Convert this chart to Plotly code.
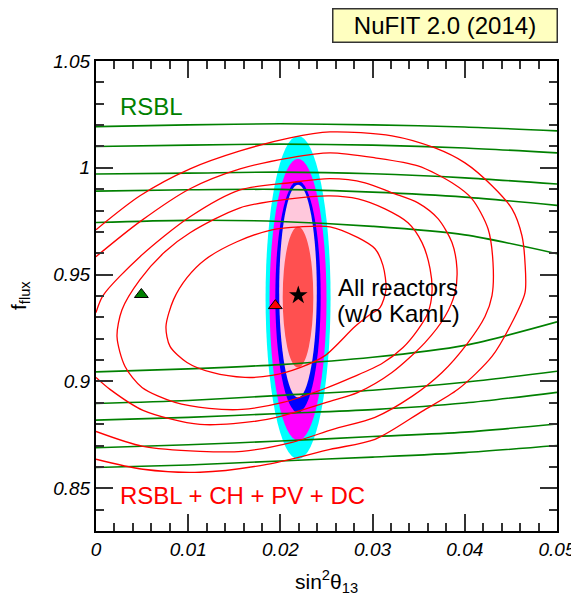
import plotly.graph_objects as go

# ---------------- data ----------------
x_ticks = [0, 0.01, 0.02, 0.03, 0.04, 0.05]
x_tick_labels = ["0", "0.01", "0.02", "0.03", "0.04", "0.05"]
y_ticks = [0.85, 0.9, 0.95, 1.0, 1.05]
y_tick_labels = ["0.85", "0.9", "0.95", "1", "1.05"]

# RSBL (green) contour lines, sampled at these sin^2 theta13 values
rsbl_x = [0.0, 0.01, 0.02, 0.03, 0.04, 0.05]
rsbl_3s_up = [1.0193, 1.0201, 1.0206, 1.0201, 1.0191, 1.0173]
rsbl_99_up = [1.0100, 1.0106, 1.0111, 1.0106, 1.0093, 1.0070]
rsbl_2s_up = [0.9971, 0.9975, 0.9980, 0.9972, 0.9953, 0.9924]
rsbl_90_up = [0.9891, 0.9897, 0.9899, 0.9886, 0.9863, 0.9824]
rsbl_1s_up = [0.9744, 0.9754, 0.9749, 0.9726, 0.9686, 0.9598]
rsbl_1s_lo = [0.9045, 0.9059, 0.9079, 0.9113, 0.9169, 0.9279]
rsbl_90_lo = [0.8897, 0.8911, 0.8935, 0.8959, 0.8996, 0.9048]
rsbl_2s_lo = [0.8819, 0.8832, 0.8850, 0.8868, 0.8899, 0.8949]
rsbl_99_lo = [0.8690, 0.8704, 0.8721, 0.8742, 0.8763, 0.8801]
rsbl_3s_lo = [0.8597, 0.8609, 0.8628, 0.8646, 0.8667, 0.8700]

# RSBL + CH + PV + DC (red) contours
comb_1s_x = [0.00759, 0.00841, 0.00987, 0.01182, 0.01529, 0.01909, 0.02213, 0.02538, 0.02842,
             0.03026, 0.03113, 0.03145, 0.03080, 0.02972, 0.02809, 0.02484, 0.02213, 0.01909,
             0.01616, 0.01258, 0.00987, 0.00803, 0.00759]
comb_1s_y = [0.9257, 0.9383, 0.9486, 0.9570, 0.9654, 0.9710, 0.9724, 0.9724, 0.9673,
             0.9621, 0.9542, 0.9430, 0.9346, 0.9313, 0.9257, 0.9121, 0.9065, 0.9028,
             0.9019, 0.9042, 0.9089, 0.9164, 0.9257]
comb_90_x = [0.00228, 0.00282, 0.00477, 0.00748, 0.01020, 0.01562, 0.02104, 0.02538, 0.02842,
             0.03134, 0.03384, 0.03536, 0.03623, 0.03644, 0.03601, 0.03492, 0.03330, 0.03102,
             0.02777, 0.02484, 0.02028, 0.01584, 0.01226, 0.00857, 0.00499, 0.00315, 0.00228]
comb_90_y = [0.9210, 0.9336, 0.9477, 0.9607, 0.9696, 0.9813, 0.9855, 0.9869, 0.9855,
             0.9808, 0.9743, 0.9650, 0.9528, 0.9416, 0.9322, 0.9243, 0.9159, 0.9084,
             0.9019, 0.8967, 0.8902, 0.8869, 0.8874, 0.8902, 0.8972, 0.9070, 0.9210]
comb_2s_x = [0.0, 0.00076, 0.00477, 0.01020, 0.01562, 0.02104, 0.02538, 0.02918, 0.03210,
             0.03492, 0.03709, 0.03861, 0.03915, 0.03894, 0.03785, 0.03568, 0.03210, 0.02842,
             0.02538, 0.01855, 0.01128, 0.00510, 0.00152, 0.0]
comb_2s_y = [0.9322, 0.9402, 0.9584, 0.9771, 0.9897, 0.9930, 0.9949, 0.9930, 0.9883,
             0.9836, 0.9762, 0.9650, 0.9528, 0.9416, 0.9304, 0.9182, 0.9042, 0.8949,
             0.8907, 0.8822, 0.8799, 0.8865, 0.8963, 0.9019]
comb_99_x = [0.0, 0.00477, 0.01020, 0.01562, 0.02104, 0.02538, 0.03026, 0.03492, 0.03861,
             0.04078, 0.04252, 0.04306, 0.04295, 0.04219, 0.04035, 0.03753, 0.03427, 0.03026,
             0.02570, 0.02126, 0.01584, 0.01128, 0.00510, 0.0]
comb_99_y = [0.9584, 0.9748, 0.9902, 0.9995, 1.0047, 1.0070, 1.0047, 1.0009, 0.9930,
             0.9855, 0.9715, 0.9556, 0.9402, 0.9304, 0.9182, 0.9042, 0.8930, 0.8832,
             0.8776, 0.8715, 0.8673, 0.8673, 0.8696, 0.8766]
comb_3s_x = [0.0, 0.00477, 0.01020, 0.01562, 0.02104, 0.02538, 0.03210, 0.03677, 0.04002,
             0.04295, 0.04512, 0.04620, 0.04653, 0.04653, 0.04512, 0.04295, 0.03926, 0.03536,
             0.03026, 0.02538, 0.01855, 0.01128, 0.00510, 0.0]
comb_3s_y = [0.9710, 0.9869, 0.9995, 1.0079, 1.0140, 1.0168, 1.0150, 1.0093, 1.0023,
             0.9916, 0.9808, 0.9682, 0.9556, 0.9416, 0.9276, 0.9117, 0.8963, 0.8860,
             0.8729, 0.8682, 0.8612, 0.8575, 0.8589, 0.8636]

# All reactors (w/o KamL): extents of the filled regions, outer (3 sigma) to inner (1 sigma)
all_levels = ["3sigma", "99%", "2sigma", "90%", "1sigma"]
all_x_min = [0.01839, 0.01882, 0.01945, 0.01987, 0.02025]
all_x_max = [0.02544, 0.02500, 0.02437, 0.02395, 0.02357]
all_y_min = [0.8636, 0.8724, 0.8855, 0.8925, 0.9065]
all_y_max = [1.0149, 1.0042, 0.9939, 0.9921, 0.9724]
all_colors = ["#00FFFF", "#FF00FF", "#0000FF", "#FFC8DC", "#FF5050"]

# best-fit points
bf_rsbl = (0.00492, 0.9407)
bf_comb = (0.01945, 0.9355)
bf_all = (0.02194, 0.9403)

# ---------------- figure ----------------
FONT = "Liberation Sans, Arial, Helvetica, sans-serif"
GREEN = "#008000"
RED = "#FF0000"

fig = go.Figure()

for lvl, x0, x1, y0, y1, c in zip(all_levels, all_x_min, all_x_max, all_y_min, all_y_max, all_colors):
    fig.add_shape(type="circle", xref="x", yref="y", x0=x0, x1=x1, y0=y0, y1=y1,
                  fillcolor=c, line=dict(width=0), layer="below")

for yy in [rsbl_3s_up, rsbl_99_up, rsbl_2s_up, rsbl_90_up, rsbl_1s_up,
           rsbl_1s_lo, rsbl_90_lo, rsbl_2s_lo, rsbl_99_lo, rsbl_3s_lo]:
    fig.add_trace(go.Scatter(x=rsbl_x, y=yy, mode="lines",
                             line=dict(color=GREEN, width=1.6, shape="spline", smoothing=0.8),
                             hoverinfo="skip"))

for xx, yy in [(comb_1s_x, comb_1s_y), (comb_90_x, comb_90_y), (comb_2s_x, comb_2s_y),
               (comb_99_x, comb_99_y), (comb_3s_x, comb_3s_y)]:
    fig.add_trace(go.Scatter(x=xx, y=yy, mode="lines",
                             line=dict(color=RED, width=1.3, shape="spline", smoothing=0.8),
                             hoverinfo="skip"))

fig.add_trace(go.Scatter(x=[bf_rsbl[0]], y=[bf_rsbl[1]], mode="markers",
                         marker=dict(symbol="triangle-up", size=12, color=GREEN,
                                     line=dict(color="black", width=1))))
fig.add_trace(go.Scatter(x=[bf_comb[0]], y=[bf_comb[1]], mode="markers",
                         marker=dict(symbol="triangle-up", size=12, color=RED,
                                     line=dict(color="black", width=1))))
fig.add_trace(go.Scatter(x=[bf_all[0]], y=[bf_all[1]], mode="markers",
                         marker=dict(symbol="star", size=14, color="black",
                                     line=dict(color="black", width=0))))

axis_common = dict(
    ticks="inside", ticklen=17, tickwidth=1.5, tickcolor="#333333",
    showline=True, linecolor="black", linewidth=2, mirror="ticks",
    showgrid=False, zeroline=False, automargin=False,
    tickfont=dict(family=FONT, size=19, color="black", style="italic"),
)

# the page body adds an 8px offset, so the figure is 8px smaller and shifted
fig.update_layout(
    width=571, height=586,
    margin=dict(l=88, r=22, t=53, b=63),
    paper_bgcolor="white", plot_bgcolor="white",
    showlegend=False,
    xaxis=dict(range=[0, 0.05], tickvals=x_ticks, ticktext=x_tick_labels,
               minor=dict(dtick=0.002, tick0=0, ticks="inside", ticklen=8, tickwidth=1.5,
                          tickcolor="#333333", showgrid=False),
               **axis_common),
    yaxis=dict(range=[0.83, 1.05], tickvals=y_ticks, ticktext=y_tick_labels,
               minor=dict(dtick=0.01, tick0=0.83, ticks="inside", ticklen=8, tickwidth=1.5,
                          tickcolor="#333333", showgrid=False),
               **axis_common),
)

fig.add_annotation(text="NuFIT 2.0 (2014)", xref="paper", yref="paper",
                   x=(445 - 96) / 461, y=(531 - 25.8) / 470, showarrow=False,
                   font=dict(family=FONT, size=24, color="black"),
                   bgcolor="#FFFFC0", bordercolor="#333333", borderwidth=1.5,
                   width=221, height=30, borderpad=1, xanchor="center", yanchor="middle")
fig.add_annotation(text="RSBL", xref="paper", yref="paper",
                   x=(118 - 96) / 461, y=(531 - 106.5) / 470, showarrow=False,
                   font=dict(family=FONT, size=24, color=GREEN), xanchor="left", yanchor="middle")
fig.add_annotation(text="RSBL + CH + PV + DC", xref="paper", yref="paper",
                   x=(118 - 96) / 461, y=(531 - 495) / 470, showarrow=False,
                   font=dict(family=FONT, size=24, color=RED), xanchor="left", yanchor="middle")
fig.add_annotation(text="All reactors", xref="paper", yref="paper",
                   x=(336 - 96) / 461, y=(531 - 287.5) / 470, showarrow=False,
                   font=dict(family=FONT, size=24, color="black"), xanchor="left", yanchor="middle")
fig.add_annotation(text="(w/o KamL)", xref="paper", yref="paper",
                   x=(335 - 96) / 461, y=(531 - 313) / 470, showarrow=False,
                   font=dict(family=FONT, size=24, color="black"), xanchor="left", yanchor="middle")
fig.add_annotation(text="sin<sup>2</sup>θ<sub>13</sub>", xref="paper", yref="paper",
                   x=0.5, y=(531 - 581) / 470, showarrow=False,
                   font=dict(family=FONT, size=21, color="black"), xanchor="center", yanchor="middle")
fig.add_annotation(text="f<sub>flux</sub>", xref="paper", yref="paper",
                   x=(20 - 96) / 461, y=0.5, showarrow=False, textangle=-90,
                   font=dict(family=FONT, size=21, color="black"), xanchor="center", yanchor="middle")

fig.write_html("out.html")
